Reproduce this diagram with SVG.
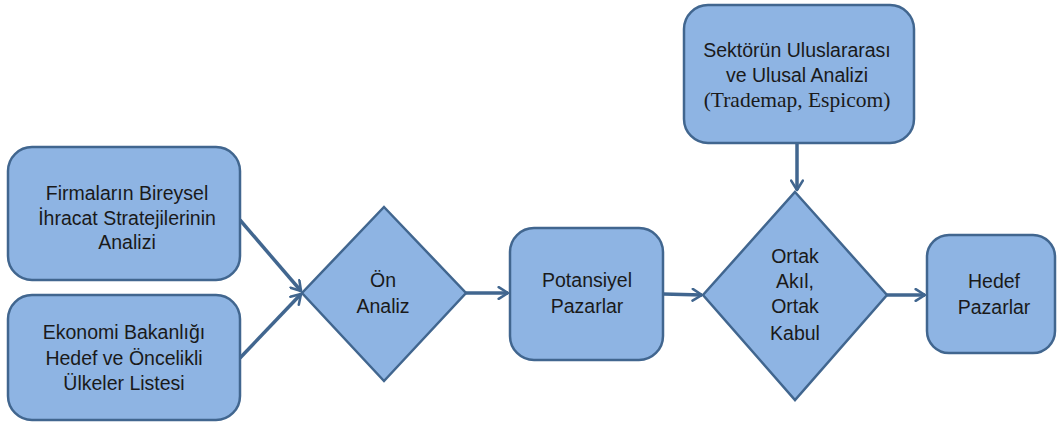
<svg xmlns="http://www.w3.org/2000/svg" width="1057" height="423" viewBox="0 0 1057 423">
<style>
.node{fill:#8eb4e3;stroke:#41668f;stroke-width:2.5}
.t{font-family:"Liberation Sans","DejaVu Sans",sans-serif;font-size:19.5px;fill:#1a1a1a;text-anchor:middle}
.s{font-family:"Liberation Serif",serif;font-size:21.5px;fill:#1a1a1a;text-anchor:middle}
.c{fill:none;stroke:#41668f;stroke-width:3.5;marker-end:url(#arr)}
</style>
<defs>
<marker id="arr" viewBox="0 0 12 12" refX="10" refY="6" markerWidth="4" markerHeight="4" orient="auto" markerUnits="strokeWidth">
<path d="M2,1 L10,6 L2,11" fill="none" stroke="#41668f" stroke-width="2.2" stroke-linecap="round" stroke-linejoin="round"/>
</marker>
</defs>
<rect width="1057" height="423" fill="#ffffff"/>
<g id="connectors">
<path class="c" d="M240,220 L301,291"/>
<path class="c" d="M240,358 L301,294"/>
<path class="c" d="M466,293 L508,293"/>
<path class="c" d="M663,294 L702,295"/>
<path class="c" d="M797,143 L797,190"/>
<path class="c" d="M887,295 L925,295"/>
</g>
<g id="sektor">
<rect class="node" x="684" y="5" width="230" height="138" rx="24"/>
<text class="t" x="797" y="57">Sektörün Uluslararası</text>
<text class="t" x="797" y="82">ve Ulusal Analizi</text>
<text class="s" x="797" y="107">(Trademap, Espicom)</text>
</g>
<g id="firmalar">
<rect class="node" x="8" y="147" width="232" height="133" rx="24"/>
<text class="t" x="127" y="200">Firmaların Bireysel</text>
<text class="t" x="127" y="225">İhracat Stratejilerinin</text>
<text class="t" x="127" y="249">Analizi</text>
</g>
<g id="ekonomi">
<rect class="node" x="8" y="295" width="232" height="125" rx="24"/>
<text class="t" x="124" y="339">Ekonomi Bakanlığı</text>
<text class="t" x="124" y="365">Hedef ve Öncelikli</text>
<text class="t" x="124" y="390">Ülkeler Listesi</text>
</g>
<g id="on-analiz">
<polygon class="node" points="384,207 466,293 384,381 302,293"/>
<text class="t" x="383" y="287">Ön</text>
<text class="t" x="383" y="313">Analiz</text>
</g>
<g id="potansiyel">
<rect class="node" x="510" y="228" width="153" height="132" rx="24"/>
<text class="t" x="587" y="287">Potansiyel</text>
<text class="t" x="587" y="313">Pazarlar</text>
</g>
<g id="ortak">
<polygon class="node" points="795,192 887,295 795,400 703,295"/>
<text class="t" x="795" y="263">Ortak</text>
<text class="t" x="795" y="288">Akıl,</text>
<text class="t" x="795" y="313">Ortak</text>
<text class="t" x="795" y="340">Kabul</text>
</g>
<g id="hedef">
<rect class="node" x="927" y="235" width="128" height="118" rx="22"/>
<text class="t" x="994" y="288">Hedef</text>
<text class="t" x="994" y="314">Pazarlar</text>
</g>
</svg>
